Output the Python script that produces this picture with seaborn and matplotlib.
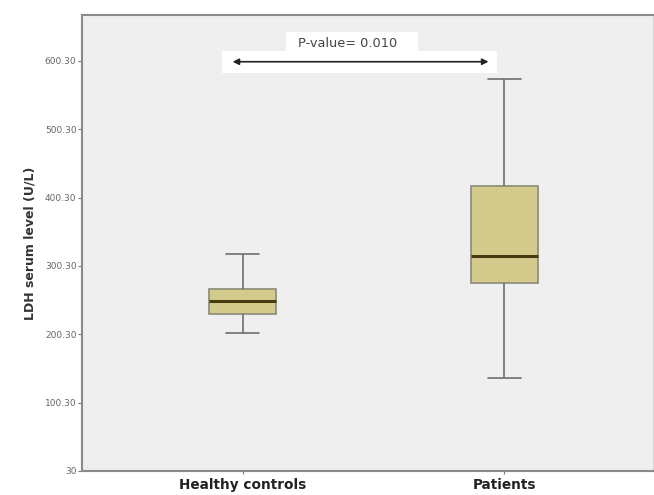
import matplotlib
matplotlib.use("Agg")
import matplotlib.pyplot as plt
import seaborn as sns
import pandas as pd
from matplotlib.patches import Rectangle

# Five-number summaries (min, Q1, median, Q3, max)
groups = ["Healthy controls", "Patients"]
healthy_values = [202, 230, 249, 267, 318]
patient_values = [136, 276, 315, 417, 574]
ytick_values = [0.3, 100.3, 200.3, 300.3, 400.3, 500.3, 600.3]
ytick_labels = ["30", "100.30", "200.30", "300.30", "400.30", "500.30", "600.30"]
pvalue_text = "P-value= 0.010"

df = pd.DataFrame({
    "group": [groups[0]] * len(healthy_values) + [groups[1]] * len(patient_values),
    "value": healthy_values + patient_values,
})

sns.set_theme(style="white")
plt.rcParams["font.family"] = ["DejaVu Sans"]

fig = plt.figure(figsize=(6.54, 4.95), dpi=100)
ax = fig.add_axes([0.1254, 0.0485, 0.8730, 0.9215])
ax.set_facecolor("#efefef")

sns.boxplot(
    data=df, x="group", y="value", order=groups, ax=ax,
    width=0.253, whis=1.5, color="#d3cb8c", saturation=1,
    linecolor="#7a7a72", linewidth=1.2,
    medianprops=dict(color="#4a3a10", linewidth=2.2),
    capprops=dict(color="#6e6e6e", linewidth=1.2),
    whiskerprops=dict(color="#6e6e6e", linewidth=1.2),
    boxprops=dict(edgecolor="#8a8a78", linewidth=1.2),
    showfliers=False,
)

ax.set_xlim(-0.613, 1.567)
ax.set_ylim(0.3, 667.6)
ax.set_yticks(ytick_values)
ax.set_yticklabels(ytick_labels, fontsize=6.5, color="#666666")
ax.tick_params(axis="y", length=3, width=0.8, color="#777777", left=True, pad=1)
ax.tick_params(axis="x", length=2, width=0.8, color="#777777", bottom=True, pad=3)
for lab in ax.get_xticklabels():
    lab.set_fontsize(9.8)
    lab.set_fontweight("bold")
    lab.set_color("#222222")
ax.set_xlabel("")
ax.set_ylabel("LDH serum level (U/L)", fontsize=9, fontweight="bold", color="#333333", labelpad=6)

for side in ["left", "bottom", "top"]:
    ax.spines[side].set_color("#8a8a8a")
    ax.spines[side].set_linewidth(1.5)
ax.spines["right"].set_color("#d8d8d8")
ax.spines["right"].set_linewidth(1.0)

# white backgrounds behind the annotation
ax.add_patch(Rectangle((-0.077, 583), 1.05, 32, facecolor="white", edgecolor="none", zorder=3))
ax.add_patch(Rectangle((0.164, 613), 0.505, 29, facecolor="white", edgecolor="none", zorder=3))

ax.annotate("", xy=(-0.038, 599), xytext=(0.939, 599),
            arrowprops=dict(arrowstyle="<|-|>", color="#222222", lw=1.2,
                            mutation_scale=9, shrinkA=0, shrinkB=0), zorder=4)
ax.text(0.40, 625, pvalue_text, ha="center", va="center", fontsize=9.3, color="#444444", zorder=4)

fig.savefig("out.png", dpi=100)
